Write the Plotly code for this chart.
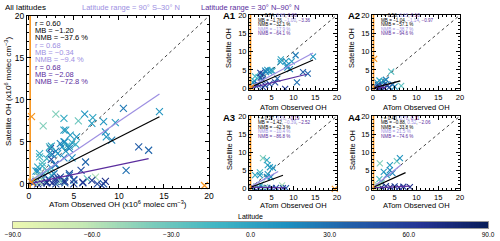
import plotly.graph_objects as go

# ---------------- data ----------------
# Panel A1 (observed OH, satellite OH, latitude)
a1_obs = [14.5, 10.5, 9.6, 8.3, 7.1, 7.0, 8.5, 8.6, 9.2, 12.2, 13.3, 10.8, 5.2, 4.8, 4.5, 4.0, 3.7, 3.5,
          3.0, 2.6, 2.0, 1.2, 1.0, 0.8, 5.8, 4.5, 3.5, 2.5, 2.9, 2.4, 1.8, 1.5, 3.0, 6.3, 8.1]
a1_sat = [8.6, 9.0, 7.3, 7.4, 7.9, 7.2, 6.2, 5.6, 5.2, 4.4, 4.0, 1.6, 4.7, 4.9, 4.5, 5.0, 4.4, 4.8,
          3.9, 3.5, 3.0, 3.2, 2.0, 1.5, 1.6, 1.2, 0.8, 2.9, 2.3, 4.2, 1.0, 0.5, 0.3, 2.6, -0.2]
a1_lat = [10, 25, 5, 10, 0, 5, 15, 10, 20, 40, 35, 30, -5, 0, 10, 5, 15, 20,
          25, 30, -10, -15, 0, 10, 50, 45, 55, 50, 45, 60, 40, 35, 55, 35, 60]
# Panel A2
a2_obs = [4.2, 6.5, 5.0, 3.8, 2.0, 2.5, 1.5, 3.0, 2.8, 1.2, 0.8, 1.8, 2.6, 3.3, 0.5, 4.5, 1.0, 2.2, 1.4]
a2_sat = [4.5, 0.6, 0.4, 0.3, 1.6, 1.9, 2.1, 2.3, 1.2, 0.8, 0.3, 0.2, 0.1, 0.6, 0.1, 1.0, 1.5, 0.5, 0.1]
a2_lat = [-20, -25, 10, 40, 0, 5, -5, 20, 30, 50, 60, 65, 70, 55, 75, 30, 15, 60, 70]
# Panel A3
a3_obs = [3.0, 3.9, 4.1, 4.6, 5.3, 2.3, 1.2, 3.9, 4.8, 2.3, 4.1, 7.4, 7.6, 6.0, 5.0, 4.0, 3.0, 2.0,
          1.0, 0.5, 1.5, 3.5, 2.5, 8.3]
a3_sat = [8.3, 7.8, 6.4, 5.8, 5.6, 4.4, 3.6, 3.1, 3.1, 3.6, 3.9, 0.8, 0.0, 0.1, 0.0, 0.1, 0.0, 0.1,
          0.0, 0.2, 0.5, 0.3, 1.0, 0.0]
a3_lat = [-40, -5, 0, 5, 10, -15, -5, 20, 15, 10, 5, -55, 50, 45, 55, 40, 50, 45,
          60, 30, -30, -40, 0, 40]
# Panel A4
a4_obs = [1.6, 3.9, 5.5, 6.2, 3.2, 3.9, 2.5, 4.5, 1.5, 2.0, 1.0, 8.5, 7.0, 6.0, 5.0, 4.0, 3.0, 2.0, 0.8, 1.2]
a4_sat = [6.9, 6.4, 7.5, 8.3, 3.6, 5.0, 4.5, 4.2, 2.5, 1.5, 1.0, 0.3, 0.4, 0.2, 0.5, 0.3, 0.6, 0.2, 0.5, 0.2]
a4_lat = [-40, 5, -30, 10, 10, 15, 5, 20, -20, -30, -45, 70, 60, 65, 55, 70, 60, 75, -50, -60]

# flagged (orange) points per panel
a1_flag_obs, a1_flag_sat = [0.3], [0.2]
a2_flag_obs, a2_flag_sat = [0.3], [8.0]
a3_flag_obs, a3_flag_sat = [19.5], [-0.2]
a4_flag_obs, a4_flag_sat = [], []
flag_edge_obs = [0.15, 0.15]
flag_edge_sat = [-0.5, 20]

# regression fits: [obs range], [fitted sat] for all / 90S-30N / 30N-90N
main_fit_all = ([0, 14.5], [0.1, 8.0])
main_fit_s = ([0, 14.5], [0.2, 10.7])
main_fit_n = ([0, 13.3], [0.0, 3.0])
a1_fit_all = ([0, 14.5], [0.2, 7.7])
a1_fit_s = ([0, 14.5], [0.3, 9.6])
a1_fit_n = ([0, 13.1], [0.0, 3.8])
a2_fit_all = ([0, 6.3], [0.0, 2.0])
a2_fit_s = ([0, 4.2], [0.1, 1.2])
a2_fit_n = ([0, 3.0], [0.0, 0.2])
a3_fit_all = ([0, 7.6], [0.2, 3.6])
a3_fit_s = ([0, 6.5], [0.3, 4.6])
a3_fit_n = ([0, 8.3], [0.3, 0.1])
a4_fit_all = ([0, 7.5], [0.2, 4.3])
a4_fit_s = ([0, 6.5], [0.2, 6.5])
a4_fit_n = ([0, 8.5], [0.1, 0.6])
one_to_one = [0, 20]

# statistics (all, 90S-30N, 30N-90N)
main_r = ["0.60", "0.68", "0.68"]
main_mb = ["\u22121.20", "\u22120.34", "\u22122.08"]
main_nmb = ["\u221237.6", "\u22129.4", "\u221272.8"]
a1_r, a1_mb, a1_nmb = ["0.74", "0.89", "0.80"], ["\u22121.76", "\u22121.00", "\u22123.36"], ["\u221232.1", "\u221217.9", "\u221264.1"]
a2_r, a2_mb, a2_nmb = ["0.56", "0.15", "0.10"], ["\u22121.04", "\u22121.14", "\u22120.97"], ["\u221257.1", "\u221238.7", "\u221294.6"]
a3_r, a3_mb, a3_nmb = ["0.27", "0.26", "\u22120.19"], ["\u22121.42", "\u22120.39", "\u22122.52"], ["\u221242.3", "\u221210.4", "\u221286.8"]
a4_r, a4_mb, a4_nmb = ["0.40", "0.78", "0.11"], ["\u22120.88", "0.52", "\u22122.06"], ["\u221233.8", "21.5", "\u221274.6"]

tick_vals = [0, 5, 10, 15, 20]
cbar_ticks = [-90, -60, -30, 0, 30, 60, 90]
cbar_lat = [v - 90 for v in range(0, 181)]   # colour-bar sampling of latitude

# ---------------- styling ----------------
W, H = 500, 241
FONT = "Liberation Sans"
LIGHT = "#9d8fe2"
DARK = "#5b2d9e"
ORANGE = "#f7941d"
cscale = [[0, '#edf8b1'], [0.143, '#c7e9b4'], [0.286, '#7fcdbb'], [0.429, '#41b6c4'],
          [0.571, '#1d91c0'], [0.714, '#225ea8'], [0.857, '#253494'], [1, '#081d58']]


def px(x):
    return x / W


def py(y):
    return 1 - y / H


fig = go.Figure()

panels = [
    dict(xa='x', ya='y', dom_x=(27, 209), dom_y=(16, 188), tick=8.5, msize=7,
         obs=a1_obs + a2_obs + a3_obs + a4_obs, sat=a1_sat + a2_sat + a3_sat + a4_sat,
         lat=a1_lat + a2_lat + a3_lat + a4_lat,
         fobs=a1_flag_obs + a2_flag_obs + a3_flag_obs, fsat=a1_flag_sat + a2_flag_sat + a3_flag_sat,
         fits=[main_fit_s, main_fit_n, main_fit_all]),
    dict(xa='x2', ya='y2', dom_x=(249, 337), dom_y=(15, 90), tick=7.5, msize=6,
         obs=a1_obs, sat=a1_sat, lat=a1_lat, fobs=a1_flag_obs, fsat=a1_flag_sat,
         fits=[a1_fit_s, a1_fit_n, a1_fit_all]),
    dict(xa='x3', ya='y3', dom_x=(372, 460), dom_y=(15, 90), tick=7.5, msize=6,
         obs=a2_obs, sat=a2_sat, lat=a2_lat, fobs=a2_flag_obs, fsat=a2_flag_sat,
         fits=[a2_fit_s, a2_fit_n, a2_fit_all]),
    dict(xa='x4', ya='y4', dom_x=(249, 337), dom_y=(116, 190), tick=7.5, msize=6,
         obs=a3_obs, sat=a3_sat, lat=a3_lat, fobs=a3_flag_obs, fsat=a3_flag_sat,
         fits=[a3_fit_s, a3_fit_n, a3_fit_all]),
    dict(xa='x5', ya='y5', dom_x=(372, 460), dom_y=(116, 190), tick=7.5, msize=6,
         obs=a4_obs, sat=a4_sat, lat=a4_lat, fobs=a4_flag_obs, fsat=a4_flag_sat,
         fits=[a4_fit_s, a4_fit_n, a4_fit_all]),
]

layout_axes = {}
for i, p in enumerate(panels):
    fig.add_trace(go.Scatter(x=one_to_one, y=one_to_one, mode='lines', xaxis=p['xa'], yaxis=p['ya'],
                             line=dict(color='#444', width=1, dash='dot'), showlegend=False, hoverinfo='skip'))
    fig.add_trace(go.Scatter(x=p['obs'], y=p['sat'], mode='markers', xaxis=p['xa'], yaxis=p['ya'],
                             marker=dict(symbol='x-thin-open', size=p['msize'], color=p['lat'],
                                         coloraxis='coloraxis', line=dict(width=1.1)),
                             showlegend=False))
    for (fx, fy), col in zip(p['fits'], [LIGHT, DARK, 'black']):
        fig.add_trace(go.Scatter(x=fx, y=fy, mode='lines', xaxis=p['xa'], yaxis=p['ya'],
                                 line=dict(color=col, width=1.2), showlegend=False, hoverinfo='skip'))
    fig.add_trace(go.Scatter(x=flag_edge_obs, y=flag_edge_sat, mode='lines', xaxis=p['xa'], yaxis=p['ya'],
                             line=dict(color=ORANGE, width=1.6), showlegend=False, hoverinfo='skip'))
    if p['fobs']:
        fig.add_trace(go.Scatter(x=p['fobs'], y=p['fsat'], mode='markers', xaxis=p['xa'], yaxis=p['ya'],
                                 marker=dict(symbol='x-thin-open', size=p['msize'], color=ORANGE,
                                             line=dict(width=1.2)), showlegend=False, cliponaxis=False))

    common = dict(tickvals=tick_vals, ticks='inside', ticklen=4, tickwidth=1, tickcolor='black',
                  mirror='allticks', showline=True, linecolor='black', linewidth=1, showgrid=False,
                  zeroline=False, automargin=False, tickfont=dict(family=FONT, size=p['tick'], color='black'),
                  minor=dict(ticks='inside', ticklen=2, dtick=1, tick0=0, tickcolor='black', showgrid=False))
    suffix = '' if i == 0 else str(i + 1)
    layout_axes['xaxis' + suffix] = dict(common, domain=[px(p['dom_x'][0]), px(p['dom_x'][1])],
                                         anchor='y' + suffix, range=[-0.2, 20])
    layout_axes['yaxis' + suffix] = dict(common, domain=[py(p['dom_y'][1]), py(p['dom_y'][0])],
                                         anchor='x' + suffix, range=[-0.5, 20])

# colour bar drawn as a heatmap strip on its own axes
fig.add_trace(go.Heatmap(x=cbar_lat, y=[0], z=[cbar_lat], coloraxis='coloraxis', xaxis='x6', yaxis='y6',
                         hoverinfo='skip'))
layout_axes['xaxis6'] = dict(domain=[px(13), px(488)], anchor='y6', range=[-90, 90], tickvals=cbar_ticks,
                             tickformat='.1f', ticks='', showline=True, mirror=True, linecolor='#999',
                             linewidth=0.8, showgrid=False, zeroline=False, automargin=False,
                             tickfont=dict(family=FONT, size=6.5, color='black'))
layout_axes['yaxis6'] = dict(domain=[py(228), py(222)], anchor='x6', range=[-0.5, 0.5], showticklabels=False,
                             ticks='', showline=True, mirror=True, linecolor='#999', linewidth=0.8,
                             showgrid=False, zeroline=False, automargin=False)

ann = []


def txt(x, y, s, size, color='black', anchor='left', angle=0, yanchor='middle'):
    ann.append(dict(x=px(x), y=py(y), xref='paper', yref='paper', text=s, showarrow=False,
                    xanchor=anchor, yanchor=yanchor, textangle=angle,
                    font=dict(family=FONT, size=size, color=color)))


txt(3, 7, "All latitudes", 8)
txt(80, 7, "Latitude range = 90\u00b0 S\u201330\u00b0 N", 7.5, LIGHT)
txt(199, 7, "Latitude range = 30\u00b0 N\u201390\u00b0 N", 7.5, DARK)

cols = ['black', LIGHT, DARK]
y0 = 23
for k in range(3):
    txt(33, y0 + k * 22, "r = " + main_r[k], 7.5, cols[k])
    txt(33, y0 + k * 22 + 7.3, "MB = " + main_mb[k], 7.5, cols[k])
    txt(33, y0 + k * 22 + 14.6, "NMB = " + main_nmb[k] + " %", 7.5, cols[k])

txt(118, 204, "ATom Observed OH (x10<sup>6</sup> molec cm<sup>\u22123</sup>)", 8, anchor='center')
txt(8, 92, "Satellite OH (x10<sup>6</sup> molec cm<sup>\u22123</sup>)", 8, anchor='center', angle=-90)


def sub_stats(x, y, r, mb, nmb):
    sp = lambda v, c: "<span style='color:%s'>%s</span>" % (c, v)
    txt(x, y, "r = " + r[0] + ", " + sp(r[1], LIGHT) + ", " + sp(r[2], DARK), 4.6)
    txt(x, y + 4.5, "MB = " + mb[0] + ", " + sp(mb[1], LIGHT) + ", " + sp(mb[2], DARK), 4.6)
    txt(x, y + 9, "NMB = " + nmb[0] + " %", 4.6)
    txt(x, y + 13.5, "NMB = " + nmb[1] + " %", 4.6, LIGHT)
    txt(x, y + 18, "NMB = " + nmb[2] + " %", 4.6, DARK)


sub_stats(256, 16, a1_r, a1_mb, a1_nmb)
sub_stats(379, 16, a2_r, a2_mb, a2_nmb)
sub_stats(256, 118, a3_r, a3_mb, a3_nmb)
sub_stats(379, 118, a4_r, a4_mb, a4_nmb)

for lab, lx, ly in [("A1", 229, 16), ("A2", 354, 16), ("A3", 229, 117), ("A4", 354, 117)]:
    txt(lx, ly, "<b>" + lab + "</b>", 9.5, anchor='center')
for cx, cy in [(293, 107), (416, 107), (293, 205), (416, 205)]:
    txt(cx, cy, "ATom Observed OH", 7.5, anchor='center')
for cx, cy in [(229, 48), (352, 48), (229, 150), (352, 150)]:
    txt(cx, cy, "Satellite OH", 7.5, anchor='center', angle=-90)
txt(250, 216, "Latitude", 7, anchor='center')

fig.update_layout(
    width=W, height=H, margin=dict(l=0, r=0, t=0, b=0, autoexpand=False), autosize=False,
    paper_bgcolor='white', plot_bgcolor='white',
    font=dict(family=FONT, color='black'),
    annotations=ann,
    coloraxis=dict(colorscale=cscale, cmin=-90, cmax=90, showscale=False),
    **layout_axes,
)

fig.write_html("out.html", config={'displayModeBar': False},
               post_script="document.body.style.margin='0';document.body.style.padding='0';"
                           "document.body.style.overflow='hidden';")
